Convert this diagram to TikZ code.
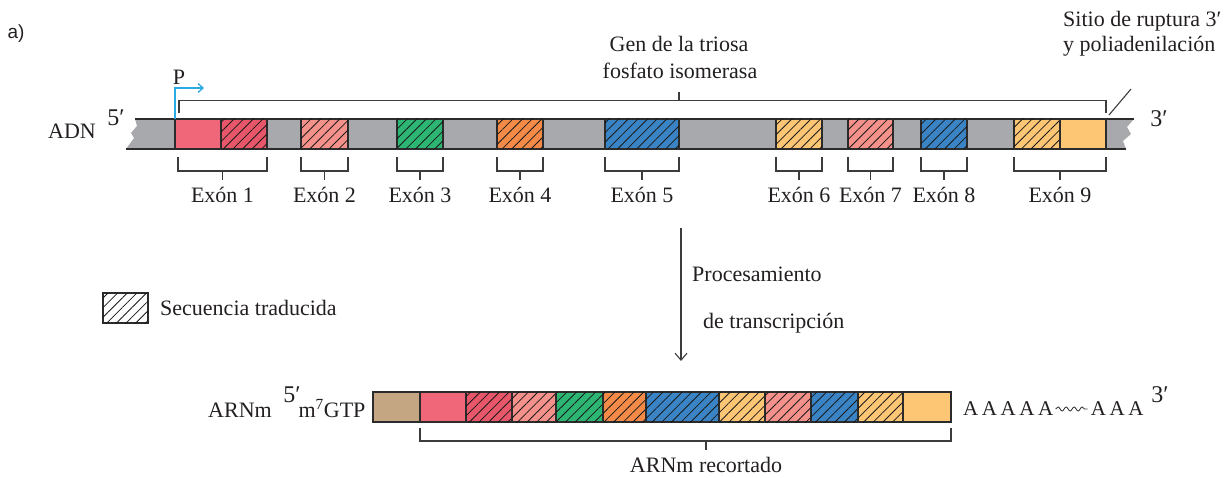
\documentclass[tikz,border=0pt]{standalone}
\usepackage{fontspec}
\setmainfont{Liberation Serif}
\newfontfamily\sanslab{Liberation Sans}
\usetikzlibrary{patterns.meta,arrows.meta,decorations.pathmorphing,calc}
\definecolor{grayC}{HTML}{A7A9AC}
\definecolor{pinkS}{HTML}{F0677A}
\definecolor{redH}{HTML}{E85669}
\definecolor{salmon}{HTML}{F4918A}
\definecolor{greenC}{HTML}{2DB573}
\definecolor{orangeC}{HTML}{F48A47}
\definecolor{blueC}{HTML}{3A84C5}
\definecolor{yellowC}{HTML}{FCC674}
\definecolor{brownC}{HTML}{C4A682}
\definecolor{cyanC}{HTML}{29ABE2}
\definecolor{txt}{HTML}{231F20}
\definecolor{lineC}{HTML}{2B2B2B}
\definecolor{brC}{HTML}{3C3C3C}
\newcommand\segm[5]{\node[seg,#5,minimum width={(#3-#2)*1pt}] (#1) at (#2,#4) {};}
\newcommand\Asp{\hspace{3.6pt}}
\begin{document}
\begin{tikzpicture}[x=1pt,y=-1pt,
  seg/.style={draw=lineC, line width=1.1pt, inner sep=0pt, outer sep=0pt, minimum height=30pt, anchor=north west},
  hatch/.style={postaction={pattern={Lines[angle=45,distance=6.8pt,line width=0.8pt]}, pattern color=black!90}},
  lbl/.style={font=\fontsize{22}{26}\selectfont, text=txt, inner sep=0pt, anchor=base},
  big/.style={font=\fontsize{24}{26}\selectfont, text=txt, inner sep=0pt, anchor=base},
  brk/.style={draw=brC, line width=1.1pt},
  barline/.style={draw=lineC, line width=1.2pt}]
\useasboundingbox (0,0) rectangle (1231,478);

% ---------- label a)
\node[font=\sanslab\fontsize{19}{21}\selectfont, text=txt, inner sep=0pt, anchor=base] (alab) at (16,39) {a)};

% ---------- DNA bar
\fill[grayC] (135,119) -- (1134,119) -- (1127,127) -- (1131,134) -- (1123,141) -- (1126,149)
  -- (126,149) -- (134,138) -- (131,133) -- (137,126) -- cycle;
\draw[barline] (135,119) -- (1134,119);
\draw[barline] (126,149) -- (1126,149);

\segm{e1s}{175}{221}{119}{fill=pinkS}
\segm{e1h}{221}{267}{119}{fill=redH,hatch}
\segm{e2}{301}{348}{119}{fill=salmon,hatch}
\segm{e3}{397}{443}{119}{fill=greenC,hatch}
\segm{e4}{497}{543}{119}{fill=orangeC,hatch}
\segm{e5}{605}{679}{119}{fill=blueC,hatch}
\segm{e6}{776}{822}{119}{fill=yellowC,hatch}
\segm{e7}{848}{893}{119}{fill=salmon,hatch}
\segm{e8}{921}{967}{119}{fill=blueC,hatch}
\segm{e9h}{1014}{1060}{119}{fill=yellowC,hatch}
\segm{e9s}{1060}{1106}{119}{fill=yellowC}

% DNA labels
\node[lbl] (adn) at (72,139) {ADN};
\node[big] (p5) at (116,126) {5′};
\node[big] (p3) at (1159,127) {3′};

% promoter
\draw[cyanC, line width=1.3pt, -{Straight Barb[length=5pt,width=9pt,line width=1.3pt]}]
  (e1s.north west) -- ++(0,-31) -- ++(29,0);
\node[lbl] (plab) at (179,85) {P};

% gene bracket
\draw[brk] ([xshift=4pt,yshift=6pt]e1s.north west) |- ([yshift=18.3pt]e9s.north east) -- ([yshift=6pt]e9s.north east);
\draw[brk] ([yshift=18.3pt]e5.north east) -- ++(0,-9) coordinate (gtop);
\node[lbl] (gen1) at (679,52) {Gen de la triosa};
\node[lbl] (gen2) at (680,79) {fosfato isomerasa};

% cleavage site
\draw[brk] ([xshift=3pt,yshift=4pt]e9s.north east) -- ++(22,-26) coordinate (cuttop);
\node[lbl, anchor=base west] (sit1) at (1063,27) {Sitio de ruptura 3′};
\node[lbl, anchor=base west] (sit2) at (1063,52) {y poliadenilación};

% exon brackets
\newcommand\exbr[4]{%
  \draw[brk] ([xshift=#4,yshift=-8pt]#1.south west) -- ([xshift=#4,yshift=-22pt]#1.south west)
     -- ([yshift=-22pt]#2.south east) -- ([yshift=-8pt]#2.south east);
  \coordinate (mid#3) at ($([xshift=#4]#1.south west)!.5!(#2.south east)$);
  \draw[brk] ([yshift=-22pt]mid#3) -- ([yshift=-31pt]mid#3);
  \node[lbl] (lx#3) at ($(mid#3)+(0,54)$) {Exón #3};}
\exbr{e1s}{e1h}{1}{3pt}
\exbr{e2}{e2}{2}{0pt}
\exbr{e3}{e3}{3}{0pt}
\exbr{e4}{e4}{4}{0pt}
\exbr{e5}{e5}{5}{0pt}
\exbr{e6}{e6}{6}{0pt}
\exbr{e7}{e7}{7}{0pt}
\exbr{e8}{e8}{8}{0pt}
\exbr{e9h}{e9s}{9}{0pt}

% processing arrow
\coordinate (pa) at (681,228);
\coordinate (pb) at (681,361);
\draw[draw=brC, line width=1.1pt, -{Straight Barb[length=7pt,width=12pt,line width=1.1pt]}] (pa) -- (pb);
\node[lbl, anchor=base west] (proc1) at (692,282) {Procesamiento};
\node[lbl, anchor=base west] (proc2) at (703,328) {de transcripción};

% legend
\node[seg, fill=white, hatch, minimum width=45pt] (leg) at (103,293) {};
\node[lbl, anchor=base west] (legt) at (160,315) {Secuencia traducida};

% ---------- mRNA
\segm{cap}{373}{420}{392}{fill=brownC}
\segm{m1s}{420}{466}{392}{fill=pinkS}
\segm{m1h}{466}{512}{392}{fill=redH,hatch}
\segm{m2}{512}{556}{392}{fill=salmon,hatch}
\segm{m3}{556}{603}{392}{fill=greenC,hatch}
\segm{m4}{603}{646}{392}{fill=orangeC,hatch}
\segm{m5}{646}{719}{392}{fill=blueC,hatch}
\segm{m6}{719}{765}{392}{fill=yellowC,hatch}
\segm{m7}{765}{811}{392}{fill=salmon,hatch}
\segm{m8}{811}{858}{392}{fill=blueC,hatch}
\segm{m9h}{858}{903}{392}{fill=yellowC,hatch}
\segm{m9s}{903}{951}{392}{fill=yellowC}

\node[lbl] (arnm) at (240,417) {ARNm};
\node[big] (m5p) at (292,402) {5′};
\node[lbl] (gtp) at (332,417) {m\textsuperscript{7}GTP};

% trimmed mRNA bracket
\draw[brk] ([yshift=-6pt]m1s.south west) -- ([yshift=-19pt]m1s.south west) -- ([yshift=-19pt]m9s.south east) -- ([yshift=-6pt]m9s.south east);
\coordinate (mr) at (706,441);
\draw[brk] (mr) -- ++(0,9);
\node[lbl] (rec) at (706,472) {ARNm recortado};

% poly-A tail
\node[lbl, anchor=base west, font=\fontsize{21}{24}\selectfont] (pA1) at (963,415) {A\Asp A\Asp A\Asp A\Asp A};
\draw[brC, line width=0.9pt, decorate, decoration={snake, segment length=8pt, amplitude=2pt}]
  ($(pA1.base east)+(2,-6)$) -- ++(32,0) coordinate (wend);
\node[lbl, anchor=base west, font=\fontsize{21}{24}\selectfont] (pA2) at ($(wend)+(3,6)$) {A\Asp A\Asp A};
\node[big] (m3p) at (1160,402) {3′};

\end{tikzpicture}
\end{document}
